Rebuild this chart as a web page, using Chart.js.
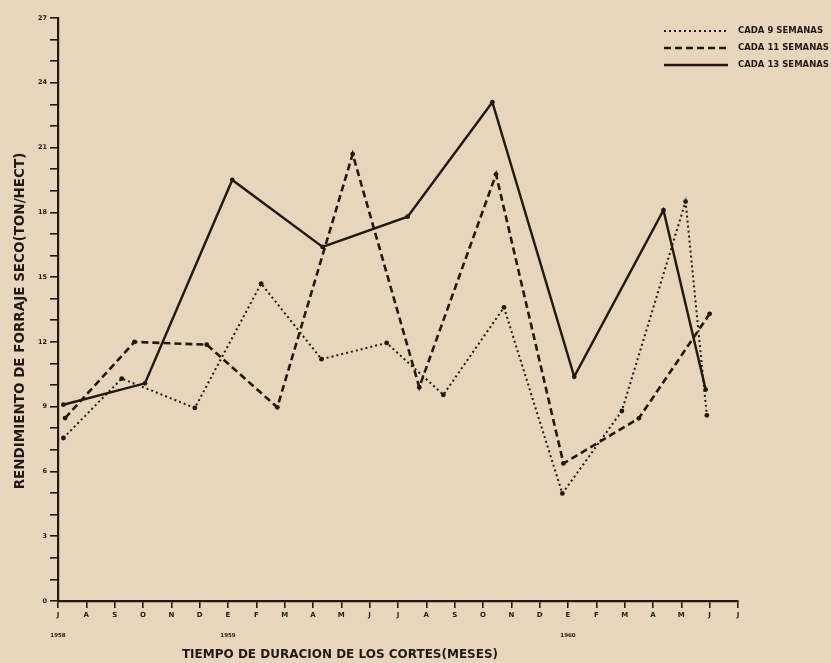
<!DOCTYPE html>
<html>
<head>
<meta charset="utf-8">
<script src="https://cdn.jsdelivr.net/npm/chart.js@4.4.1/dist/chart.umd.min.js"></script>
<style>
  html, body { margin: 0; padding: 0; background: #e6d6bc; }
  #wrap { position: relative; width: 831px; height: 663px; }
</style>
</head>
<body>
<div id="wrap"><canvas id="c" width="831" height="663"></canvas></div>
<script>
// Meses de julio 1958 a julio 1960
const meses = ['J','A','S','O','N','D','E','F','M','A','M','J','J','A','S','O','N','D','E','F','M','A','M','J','J'];
const aniosPos = [0, 6, 18];
const aniosTxt = ['1958', '1959', '1960'];

// Fecha de cada corte (meses desde julio 1958) y rendimiento (ton/hect)
const cada9Mes  = [0.19, 2.25, 4.83, 7.17, 9.3, 11.6, 13.6, 15.74, 17.8, 19.9, 22.15, 22.9];
const cada9Rend = [7.55, 10.3, 8.94, 14.7, 11.2, 11.95, 9.55, 13.6, 4.98, 8.8, 18.5, 8.6];

const cada11Mes  = [0.25, 2.7, 5.25, 7.74, 10.4, 12.75, 15.46, 17.84, 20.5, 23.0];
const cada11Rend = [8.47, 12.0, 11.87, 8.97, 20.7, 9.9, 19.76, 6.37, 8.46, 13.3];

const cada13Mes  = [0.19, 3.07, 6.15, 9.34, 12.34, 15.33, 18.22, 21.37, 22.86];
const cada13Rend = [9.09, 10.08, 19.5, 16.4, 17.8, 23.1, 10.39, 18.1, 9.79];

const series = ['CADA 9 SEMANAS', 'CADA 11 SEMANAS', 'CADA 13 SEMANAS'];

const ink = '#211a14';
const fam = '"DejaVu Sans", "Liberation Sans", sans-serif';

function puntos(xs, ys) { return xs.map((x, i) => ({ x: x, y: ys[i] })); }

function estilo(dash, width) {
  return {
    borderColor: ink, backgroundColor: ink, borderWidth: width, borderDash: dash,
    pointRadius: 2.4, pointHoverRadius: 2.4, pointBackgroundColor: ink, pointBorderWidth: 0,
    tension: 0, fill: false
  };
}

// Leyenda, títulos de ejes y años dibujados sobre el lienzo
const decor = {
  id: 'decor',
  afterDraw(chart) {
    const ctx = chart.ctx;
    const xs = chart.scales.x;
    ctx.save();
    ctx.fillStyle = ink;
    ctx.strokeStyle = ink;

    // Leyenda
    const filas = [31, 48, 65];
    chart.data.datasets.forEach((ds, i) => {
      const y = filas[i];
      ctx.beginPath();
      ctx.lineWidth = ds.borderWidth;
      ctx.setLineDash(ds.borderDash || []);
      ctx.moveTo(664, y);
      ctx.lineTo(728, y);
      ctx.stroke();
      ctx.setLineDash([]);
      ctx.font = 'bold 8.5px ' + fam;
      ctx.textAlign = 'left';
      ctx.textBaseline = 'middle';
      ctx.fillText(ds.label, 738, y);
    });

    // Años bajo el eje X
    ctx.font = 'bold 5.5px ' + fam;
    ctx.textAlign = 'center';
    ctx.textBaseline = 'middle';
    aniosPos.forEach((p, i) => ctx.fillText(aniosTxt[i], xs.getPixelForValue(p), 636));

    // Título eje X
    ctx.font = 'bold 12px ' + fam;
    ctx.textBaseline = 'middle';
    ctx.fillText('TIEMPO DE DURACION DE LOS CORTES(MESES)', 340, 655);

    // Título eje Y
    ctx.translate(20, 321);
    ctx.rotate(-Math.PI / 2);
    ctx.font = 'bold 13.5px ' + fam;
    ctx.fillText('RENDIMIENTO DE FORRAJE SECO(TON/HECT)', 0, 0);
    ctx.restore();
  }
};

new Chart(document.getElementById('c'), {
  type: 'line',
  data: {
    datasets: [
      Object.assign({ label: series[0], data: puntos(cada9Mes, cada9Rend) }, estilo([2, 3], 2.0)),
      Object.assign({ label: series[1], data: puntos(cada11Mes, cada11Rend) }, estilo([7, 4], 2.6)),
      Object.assign({ label: series[2], data: puntos(cada13Mes, cada13Rend) }, estilo([], 2.4))
    ]
  },
  options: {
    responsive: false,
    animation: false,
    devicePixelRatio: 1,
    layout: { padding: { left: 0, right: 93, top: 18, bottom: 0 } },
    plugins: { legend: { display: false }, tooltip: { enabled: false }, title: { display: false } },
    scales: {
      x: {
        type: 'linear', min: 0, max: 24,
        ticks: {
          stepSize: 1, autoSkip: false, maxRotation: 0, padding: 3, color: ink,
          font: { family: fam, size: 7, weight: 'bold' },
          callback: v => meses[v] ?? ''
        },
        grid: { drawOnChartArea: false, drawTicks: true, tickLength: 7, tickColor: ink, lineWidth: 1.6 },
        border: { display: true, color: ink, width: 2.2 },
        afterFit: s => { s.height = 62; }
      },
      y: {
        min: 0, max: 27,
        ticks: {
          stepSize: 1, autoSkip: false, padding: 3, color: ink,
          font: { family: fam, size: 6.5, weight: 'bold' },
          callback: v => (v % 3 === 0 ? String(v) : '')
        },
        grid: { drawOnChartArea: false, drawTicks: true, tickLength: 8, tickColor: ink, lineWidth: 1.6 },
        border: { display: true, color: ink, width: 2.2 },
        afterFit: s => { s.width = 58; }
      }
    }
  },
  plugins: [decor]
});
</script>
</body>
</html>
